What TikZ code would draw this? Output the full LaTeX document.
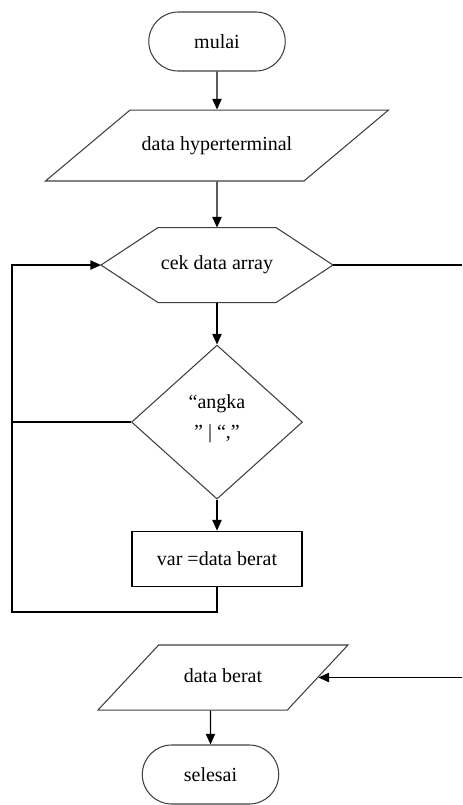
\documentclass[tikz,border=0pt]{standalone}
\usepackage{fontspec}
\setmainfont{Liberation Serif}
\usetikzlibrary{arrows.meta, positioning, shapes.geometric, shapes.misc}

\tikzset{
  outline/.style={draw=black!75, line width=0.8pt},
  terminator/.style={outline, rounded rectangle, minimum width=109pt, minimum height=44.25pt},
  io/.style={outline, trapezium, trapezium stretches body, text height=10.5pt, text depth=3.5pt},
  preparation/.style={rectangle, outer sep=0pt, minimum width=174pt, minimum height=56.25pt},
  decision/.style={outline, diamond, aspect=1.11, minimum width=128.25pt, minimum height=115.5pt, align=center},
  process/.style={draw=black, line width=0.8pt, rectangle, minimum width=127.5pt, minimum height=41.25pt},
  flow/.style={-{Triangle[length=8pt, width=7pt]}, line width=1pt},
  link/.style={line width=1pt}
}

\begin{document}
\begin{tikzpicture}[x=0.75pt, y=-0.75pt, font=\fontsize{15}{18}\selectfont]
\useasboundingbox (0,0) rectangle (462,805);
\node[terminator] (Mulai) at (217,41.5) {mulai};
\node[io, trapezium left angle=40, trapezium right angle=140, inner ysep=19.6pt, minimum width=257.25pt, below=28.5pt of Mulai] (Hyper) {data hyperterminal};
\node[preparation, below=34.5pt of Hyper] (Cek) {cek data array};
\draw[outline] (Cek.west) -- ([xshift=42.75pt]Cek.north west) -- ([xshift=-42.75pt]Cek.north east) -- (Cek.east)
  -- ([xshift=-42.75pt]Cek.south east) -- ([xshift=42.75pt]Cek.south west) -- cycle;
\node[decision, text depth=9pt, below=31.5pt of Cek] (Angka) {“angka\\[4.5pt]” | “,”};
\node[process, below=23.25pt of Angka] (Var) {var =data berat};
\node[io, trapezium left angle=47, trapezium right angle=133, inner ysep=17.4pt, minimum width=187.5pt] (Berat) at (223,677.5) {data berat};
\node[terminator] (Selesai) at (210.5,774.5) {selesai};
\coordinate (Pojok) at (12,612);
\coordinate (Tepi) at (462,263);
\draw[flow] (Mulai) -- (Hyper);
\draw[flow] (Hyper) -- (Cek);
\draw[flow] (Cek) -- (Angka);
\draw[flow] (Angka) -- (Var);
\draw[flow] (Var.south) -- (Var.south |- Pojok) -- (Pojok) |- (Cek.west);
\draw[link] (Angka.west) -- (Angka.west -| Pojok);
\draw[link] (Cek.east) -- (Cek.east -| Tepi);
\draw[flow] (Berat.east -| Tepi) -- (Berat.east);
\draw[flow] (Berat.south -| Selesai) -- (Selesai);
\end{tikzpicture}
\end{document}
